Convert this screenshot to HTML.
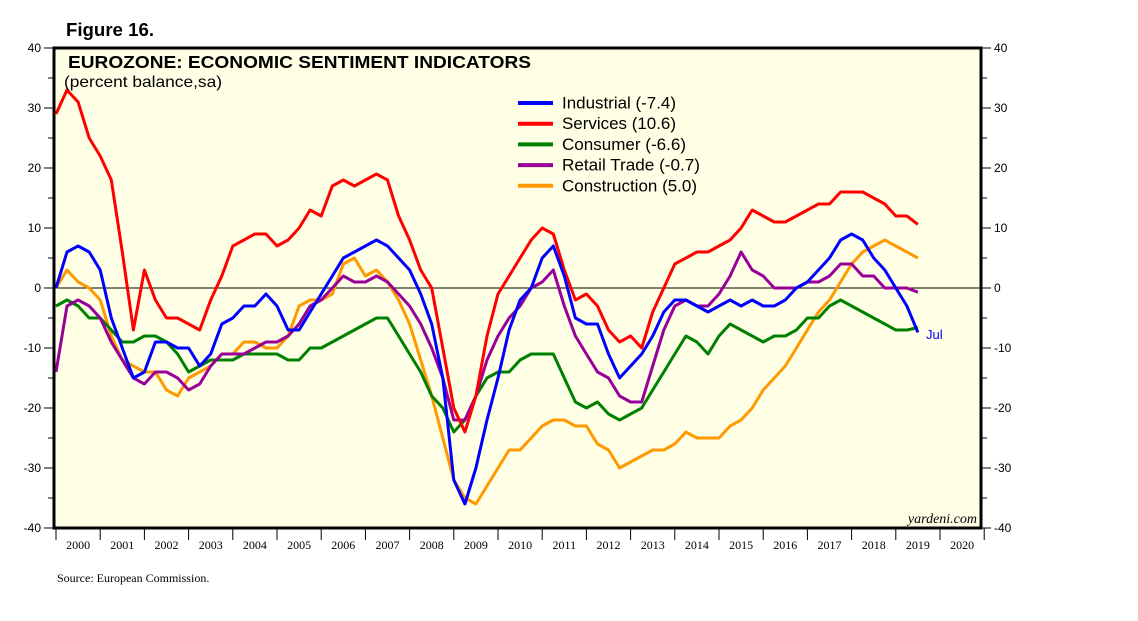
<!DOCTYPE html>
<html><head><meta charset="utf-8"><style>
body{margin:0;background:#fff;}
svg{display:block;font-family:"Liberation Sans",sans-serif;}
</style></head><body>
<svg width="1138" height="621" viewBox="0 0 1138 621" xmlns="http://www.w3.org/2000/svg">
<text x="66" y="36" font-size="18" font-weight="bold" textLength="88" lengthAdjust="spacingAndGlyphs">Figure 16.</text>
<rect x="54" y="48" width="927" height="480" fill="#ffffe6"/>
<g id="grid"></g>
<g id="series"></g>
<rect x="54" y="48" width="927" height="480" fill="none" stroke="#000" stroke-width="3"/>
<text x="68" y="68" font-size="17.5" font-weight="bold" textLength="463" lengthAdjust="spacingAndGlyphs">EUROZONE: ECONOMIC SENTIMENT INDICATORS</text>
<text x="64" y="87" font-size="16" textLength="158" lengthAdjust="spacingAndGlyphs">(percent balance,sa)</text>
<g id="legend"></g>
<text x="926" y="339" font-size="13" fill="#0000ff">Jul</text>
<text x="977" y="523" font-size="14" font-style="italic" text-anchor="end" font-family="Liberation Serif,serif">yardeni.com</text>
<text x="57" y="582" font-size="12" font-family="Liberation Serif,serif">Source: European Commission.</text>
<g id="axes"></g>
</svg>
<script>
const startYear = 2000;
const stepYears = 0.25;
const industrial = [0,6,7,6,3,-5,-10,-15,-14,-9,-9,-10,-10,-13,-11,-6,-5,-3,-3,-1,-3,-7,-7,-4,-1,2,5,6,7,8,7,5,3,-1,-6,-15,-32,-36,-30,-22,-15,-7,-2,0,5,7,2,-5,-6,-6,-11,-15,-13,-11,-8,-4,-2,-2,-3,-4,-3,-2,-3,-2,-3,-3,-2,0,1,3,5,8,9,8,5,3,0,-3,-7.4];
const services = [29,33,31,25,22,18,6,-7,3,-2,-5,-5,-6,-7,-2,2,7,8,9,9,7,8,10,13,12,17,18,17,18,19,18,12,8,3,0,-10,-20,-24,-18,-8,-1,2,5,8,10,9,3,-2,-1,-3,-7,-9,-8,-10,-4,0,4,5,6,6,7,8,10,13,12,11,11,12,13,14,14,16,16,16,15,14,12,12,10.6];
const consumer = [-3,-2,-3,-5,-5,-7,-9,-9,-8,-8,-9,-11,-14,-13,-12,-12,-12,-11,-11,-11,-11,-12,-12,-10,-10,-9,-8,-7,-6,-5,-5,-8,-11,-14,-18,-20,-24,-22,-18,-15,-14,-14,-12,-11,-11,-11,-15,-19,-20,-19,-21,-22,-21,-20,-17,-14,-11,-8,-9,-11,-8,-6,-7,-8,-9,-8,-8,-7,-5,-5,-3,-2,-3,-4,-5,-6,-7,-7,-6.6];
const retail = [-14,-3,-2,-3,-5,-9,-12,-15,-16,-14,-14,-15,-17,-16,-13,-11,-11,-11,-10,-9,-9,-8,-6,-3,-2,0,2,1,1,2,1,-1,-3,-6,-10,-15,-22,-22,-18,-12,-8,-5,-3,0,1,3,-3,-8,-11,-14,-15,-18,-19,-19,-13,-7,-3,-2,-3,-3,-1,2,6,3,2,0,0,0,1,1,2,4,4,2,2,0,0,0,-0.7];
const construction = [0,3,1,0,-2,-8,-12,-13,-14,-14,-17,-18,-15,-14,-13,-11,-11,-9,-9,-10,-10,-8,-3,-2,-2,-1,4,5,2,3,1,-2,-6,-12,-18,-25,-32,-35,-36,-33,-30,-27,-27,-25,-23,-22,-22,-23,-23,-26,-27,-30,-29,-28,-27,-27,-26,-24,-25,-25,-25,-23,-22,-20,-17,-15,-13,-10,-7,-4,-2,1,4,6,7,8,7,6,5];
const seriesNames = ["Industrial (-7.4)","Services (10.6)","Consumer (-6.6)","Retail Trade (-0.7)","Construction (5.0)"];
const yTicks = [40,30,20,10,0,-10,-20,-30,-40];
const yearLabels = ["2000","2001","2002","2003","2004","2005","2006","2007","2008","2009","2010","2011","2012","2013","2014","2015","2016","2017","2018","2019","2020"];

const NS="http://www.w3.org/2000/svg";
const X0=56, YW=44.2, Y0=288, PX=6;
function xS(t){return X0+(t-2000)*YW;}
function yS(v){return Y0-v*PX;}
function mk(tag,attrs,parent){const e=document.createElementNS(NS,tag);for(const k in attrs)e.setAttribute(k,attrs[k]);parent.appendChild(e);return e;}
const axes=document.getElementById('axes'), grid=document.getElementById('grid'), sg=document.getElementById('series'), lg=document.getElementById('legend');

const zl=mk('line',{x1:54,x2:981,y1:yS(0),y2:yS(0),stroke:'#000','stroke-width':1},grid);



for(let v=-40;v<=40;v+=5){
  const major=v%10===0;
  const a=mk('line',{x1:major?44:48,x2:54,y1:yS(v),y2:yS(v),stroke:'#000','stroke-width':1},axes);
  
  
  const b=mk('line',{x1:981,x2:major?991:987,y1:yS(v),y2:yS(v),stroke:'#000','stroke-width':1},axes);
  
  
}
yTicks.forEach(v=>{
  const t=mk('text',{x:41,y:yS(v)+4,'font-size':12,'text-anchor':'end'},axes);t.textContent=v;
  
  
  const r=mk('text',{x:994,y:yS(v)+4,'font-size':12},axes);r.textContent=v;
  
  
});
for(let i=0;i<=yearLabels.length;i++){
  const x=xS(2000+i);
  const tk=mk('line',{x1:x,x2:x,y1:528,y2:540,stroke:'#000','stroke-width':1},axes);
  
  
}
yearLabels.forEach((l,i)=>{
  const t=mk('text',{x:xS(2000+i+0.5),y:549,'font-size':12,'text-anchor':'middle','font-family':'Liberation Serif,serif'},axes);t.textContent=l;
  
  
});

const allSeries=[industrial,services,consumer,retail,construction];
const colors=['#0000ff','#ff0000','#008000','#990099','#ff9900'];
const drawOrder=[4,2,3,1,0];
drawOrder.forEach(i=>{
  const d=allSeries[i].map((v,k)=>(k?'L':'M')+xS(startYear+k*stepYears).toFixed(1)+','+yS(v).toFixed(1)).join('');
  const p=mk('path',{d:d,fill:'none',stroke:colors[i],'stroke-width':3,'stroke-linejoin':'round'},sg);
  
  
});
const legendWidths=[114,114,124,138,135];
seriesNames.forEach((n,i)=>{
  const y=103+i*20.7;
  const l=mk('line',{x1:518,x2:553,y1:y,y2:y,stroke:colors[i],'stroke-width':4},lg);
  
  
  const t=mk('text',{x:562,y:y+5.5,'font-size':17,textLength:legendWidths[i],lengthAdjust:'spacingAndGlyphs'},lg);t.textContent=n;
  
  
});
</script>
</body></html>
